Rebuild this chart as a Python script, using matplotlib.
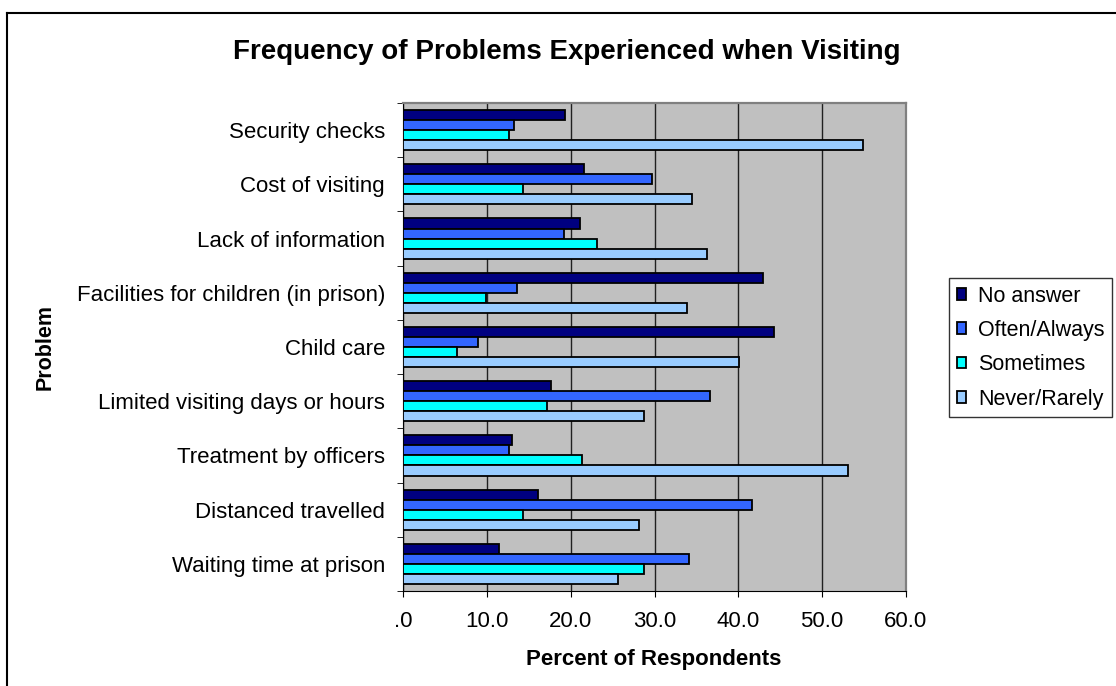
import numpy as np
import matplotlib
matplotlib.use("Agg")
from matplotlib import pyplot as plt
from matplotlib.lines import Line2D

plt.rcParams['font.family'] = ['Liberation Sans', 'DejaVu Sans']

# Categories listed from top to bottom as in the chart
problems = [
    "Security checks",
    "Cost of visiting",
    "Lack of information",
    "Facilities for children (in prison)",
    "Child care",
    "Limited visiting days or hours",
    "Treatment by officers",
    "Distanced travelled",
    "Waiting time at prison",
]
series_names = ["No answer", "Often/Always", "Sometimes", "Never/Rarely"]
no_answer = [19.3, 21.6, 21.1, 42.9, 44.3, 17.6, 13.0, 16.1, 11.5]
often_always = [13.2, 29.7, 19.2, 13.6, 9.0, 36.6, 12.7, 41.6, 34.1]
sometimes = [12.7, 14.3, 23.2, 9.9, 6.5, 17.2, 21.4, 14.3, 28.7]
never_rarely = [54.9, 34.5, 36.3, 33.9, 40.1, 28.7, 53.1, 28.1, 25.7]
colors = ["#000080", "#3366FF", "#00FFFF", "#99CCFF"]
x_ticks = [0, 10, 20, 30, 40, 50, 60]
x_labels = [".0", "10.0", "20.0", "30.0", "40.0", "50.0", "60.0"]

W, H = 1116, 686
fig = plt.figure(figsize=(W / 100, H / 100), dpi=100)
ax = fig.add_axes([403 / W, 1 - 591 / H, 503 / W, 488 / H])

# outer chart border (only top and left edges are visible in the image)
fig.add_artist(Line2D([7 / W, 1.0], [1 - 12.7 / H, 1 - 12.7 / H],
                      transform=fig.transFigure, color='black', linewidth=1.5))
fig.add_artist(Line2D([7 / W, 7 / W], [1 - 12.7 / H, 0.0],
                      transform=fig.transFigure, color='black', linewidth=1.5))

n = len(problems)
pos = np.arange(n)[::-1]  # top category gets the highest position
bar_h = 0.185
all_series = [no_answer, often_always, sometimes, never_rarely]
for i, (vals, name, col) in enumerate(zip(all_series, series_names, colors)):
    offset = (1.5 - i) * bar_h
    ax.barh(pos + offset, vals, height=bar_h, color=col, edgecolor='black',
            linewidth=1.3, label=name, zorder=3)

ax.set_facecolor('#C0C0C0')
ax.set_xlim(0, 60)
ax.set_ylim(-0.5, n - 0.5)
ax.set_xticks(x_ticks)
ax.set_xticklabels(x_labels, fontsize=16)
ax.set_yticks(pos)
ax.set_yticklabels(problems, fontsize=16)
ax.tick_params(axis='y', length=0, pad=13)
ax.set_yticks(np.arange(n + 1) - 0.5, minor=True)
ax.tick_params(axis='y', which='minor', length=4.5, direction='out')
ax.tick_params(axis='x', length=4.5, direction='out', pad=10)
ax.grid(axis='x', color='#202020', linewidth=1, zorder=1)

for side in ['top', 'right']:
    ax.spines[side].set_color('#808080')
    ax.spines[side].set_linewidth(1.6)
for side in ['left', 'bottom']:
    ax.spines[side].set_color('black')

fig.text(654 / W, 1 - 660 / H, "Percent of Respondents", fontsize=16,
         fontweight='bold', ha='center', va='center')
fig.text(45 / W, 1 - 347 / H, "Problem", rotation=90, fontsize=15.5,
         fontweight='bold', ha='center', va='center')
fig.text(567 / W, 1 - 52 / H, "Frequency of Problems Experienced when Visiting",
         fontsize=20, fontweight='bold', ha='center', va='center')

leg = ax.legend(loc='upper left', bbox_to_anchor=(949 / W, 1 - 278 / H),
                bbox_transform=fig.transFigure, fontsize=15.5, frameon=True,
                fancybox=False, edgecolor='black', handlelength=0.45,
                handleheight=0.45, handletextpad=0.55, labelspacing=0.62,
                borderpad=0.35, borderaxespad=0)
leg.get_frame().set_linewidth(1.0)

plt.savefig("out.png", dpi=100)
plt.close()
